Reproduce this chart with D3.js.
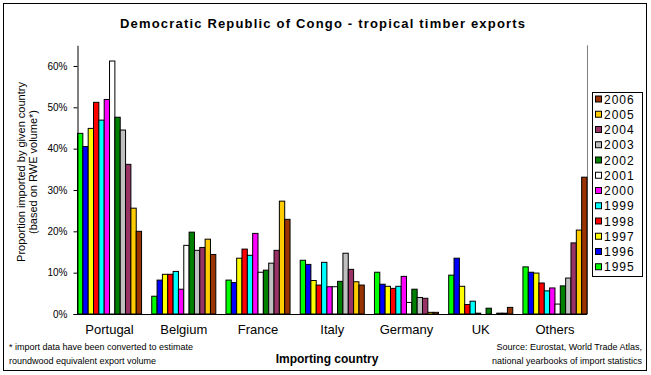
<!DOCTYPE html>
<html>
<head>
<meta charset="utf-8">
<script src="https://cdn.jsdelivr.net/npm/d3@7"></script>
<style>
  body { margin: 0; background: #fff; }
  text { font-family: "Liberation Sans", Arial, sans-serif; fill: #000; }
</style>
</head>
<body>
<div id="chart"></div>
<script>
// Categories and series
const countries = ["Portugal", "Belgium", "France", "Italy", "Germany", "UK", "Others"];
const years = ["1995", "1996", "1997", "1998", "1999", "2000", "2001", "2002", "2003", "2004", "2005", "2006"];
const yearColors = ["#00ff00", "#0000ff", "#ffff00", "#ff0000", "#00ffff", "#ff00ff",
                    "#ffffff", "#008000", "#c0c0c0", "#993366", "#ffcc00", "#993300"];

// Share (%) imported by each country, 1995..2006
const portugal = [43.7, 40.5, 44.9, 51.2, 46.9, 51.9, 61.2, 47.6, 44.5, 36.2, 25.6, 20.0];
const belgium  = [4.3, 8.2, 9.6, 9.6, 10.3, 6.0, 16.6, 19.8, 15.4, 16.1, 18.1, 14.4];
const france   = [8.2, 7.6, 13.5, 15.7, 14.2, 19.5, 10.1, 10.6, 12.3, 15.4, 27.3, 22.9];
const italy    = [13.0, 12.0, 8.1, 7.0, 12.5, 6.6, 6.6, 7.9, 14.7, 10.8, 7.8, 7.0];
const germany  = [10.1, 7.2, 6.7, 6.2, 6.7, 9.1, 2.8, 6.0, 4.0, 3.8, 0.4, 0.4];
const uk       = [9.4, 13.5, 6.7, 2.3, 3.1, 0.2, 0, 1.4, 0, 0.2, 0.2, 1.6];
const others   = [11.4, 10.1, 9.9, 7.5, 5.6, 6.3, 2.4, 6.8, 8.7, 17.2, 20.3, 33.1];

const yTicks = [0, 10, 20, 30, 40, 50, 60];

const seriesByCountry = [portugal, belgium, france, italy, germany, uk, others];

function drawChart() {
    let svgWidth = 651;
    let svgHeight = 375;

    let svg = d3.select("#chart")
        .append("svg")
        .attr("width", svgWidth)
        .attr("height", svgHeight);

    // Outer frame
    svg.append("rect")
        .attr("x", 3.5).attr("y", 3.5)
        .attr("width", 643).attr("height", 367)
        .attr("fill", "#fff")
        .attr("stroke", "#000");

    // Plot area edges
    let plotLeft = 77.5, plotRight = 587, plotTop = 45.3, plotBottom = 314;

    let x0 = d3.scaleBand()
        .domain(countries)
        .range([plotLeft, plotRight])
        .paddingInner(0.137)
        .paddingOuter(0);

    let x1 = d3.scaleBand()
        .domain(years)
        .range([0, x0.bandwidth()]);

    let y = d3.scaleLinear()
        .domain([0, 65])
        .range([plotBottom, plotTop]);

    let color = d3.scaleOrdinal().domain(years).range(yearColors);

    // Gray right border of plot area
    svg.append("line")
        .attr("x1", plotRight + 0.5).attr("x2", plotRight + 0.5)
        .attr("y1", plotTop).attr("y2", plotBottom)
        .attr("stroke", "#808080");

    // Bars
    let rows = countries.map((c, i) => ({ country: c, values: seriesByCountry[i] }));

    let groups = svg.selectAll("g.group")
        .data(rows)
        .enter()
        .append("g")
        .attr("class", "group")
        .attr("transform", d => `translate(${x0(d.country)},0)`);

    groups.selectAll("rect")
        .data(d => d.values.map((v, j) => ({ year: years[j], value: v })).filter(b => b.value > 0))
        .enter()
        .append("rect")
        .attr("x", d => x1(d.year))
        .attr("y", d => y(d.value))
        .attr("width", x1.bandwidth())
        .attr("height", d => y(0) - y(d.value))
        .attr("fill", d => color(d.year))
        .attr("stroke", "#000")
        .attr("stroke-width", 1);

    // Y axis
    let leftAxis = d3.axisLeft(y)
        .tickValues(yTicks)
        .tickFormat(d => d + "%")
        .tickSize(4)
        .tickSizeOuter(0)
        .tickPadding(6);

    let yAxis = svg.append("g")
        .attr("transform", `translate(${plotLeft},0)`)
        .call(leftAxis);
    yAxis.select(".domain").attr("stroke", "#000");
    yAxis.selectAll("text")
        .style("font-family", "'Liberation Sans', Arial, sans-serif")
        .style("font-size", "10px");

    // X axis line
    svg.append("line")
        .attr("x1", plotLeft - 4).attr("x2", plotRight)
        .attr("y1", plotBottom + 0.5).attr("y2", plotBottom + 0.5)
        .attr("stroke", "#000");

    // Category labels
    svg.selectAll("text.cat")
        .data(countries)
        .enter()
        .append("text")
        .attr("class", "cat")
        .attr("x", d => x0(d) + x0.bandwidth() / 2)
        .attr("y", 334)
        .attr("text-anchor", "middle")
        .style("font-size", "13px")
        .text(d => d);

    // Title
    svg.append("text")
        .attr("x", 322.5)
        .attr("y", 28)
        .attr("text-anchor", "middle")
        .attr("textLength", 405)
        .attr("lengthAdjust", "spacing")
        .style("font-size", "13px")
        .style("font-weight", "bold")
        .text("Democratic Republic of Congo - tropical timber exports");

    // Y axis title
    let yTitle = svg.append("text")
        .attr("transform", "translate(0,172) rotate(-90)")
        .attr("text-anchor", "middle")
        .style("font-size", "11px");
    yTitle.append("tspan").attr("x", 0).attr("y", 25).text("Proportion imported by given country");
    yTitle.append("tspan").attr("x", 0).attr("y", 37).text("(based on RWE volume*)");

    // X axis title
    svg.append("text")
        .attr("x", 327)
        .attr("y", 363)
        .attr("text-anchor", "middle")
        .style("font-size", "12px")
        .style("font-weight", "bold")
        .text("Importing country");

    // Footnotes
    let note = svg.append("text").style("font-size", "9px");
    note.append("tspan").attr("x", 9).attr("y", 350).text("* import data have been converted to estimate");
    note.append("tspan").attr("x", 9).attr("y", 364).text("roundwood equivalent export volume");

    let source = svg.append("text").attr("text-anchor", "end").style("font-size", "9px");
    source.append("tspan").attr("x", 642).attr("y", 350).text("Source:  Eurostat, World Trade Atlas,");
    source.append("tspan").attr("x", 642).attr("y", 364).text("national yearbooks of import statistics");

    // Legend (newest year on top)
    let legendYears = years.slice().reverse();
    let legend = svg.append("g").attr("transform", "translate(592,92)");
    legend.append("rect")
        .attr("x", 0.5).attr("y", 0.5)
        .attr("width", 50).attr("height", 184)
        .attr("fill", "#fff")
        .attr("stroke", "#000");

    let items = legend.selectAll("g.item")
        .data(legendYears)
        .enter()
        .append("g")
        .attr("class", "item")
        .attr("transform", (d, i) => `translate(0,${7 + i * 15.25})`);

    items.append("rect")
        .attr("x", 3.5).attr("y", -3)
        .attr("width", 6).attr("height", 6)
        .attr("fill", d => color(d))
        .attr("stroke", "#000");

    items.append("text")
        .attr("x", 12)
        .attr("y", 4.5)
        .style("font-size", "12px")
        .style("letter-spacing", "1px")
        .text(d => d);
}

drawChart();
</script>
</body>
</html>
